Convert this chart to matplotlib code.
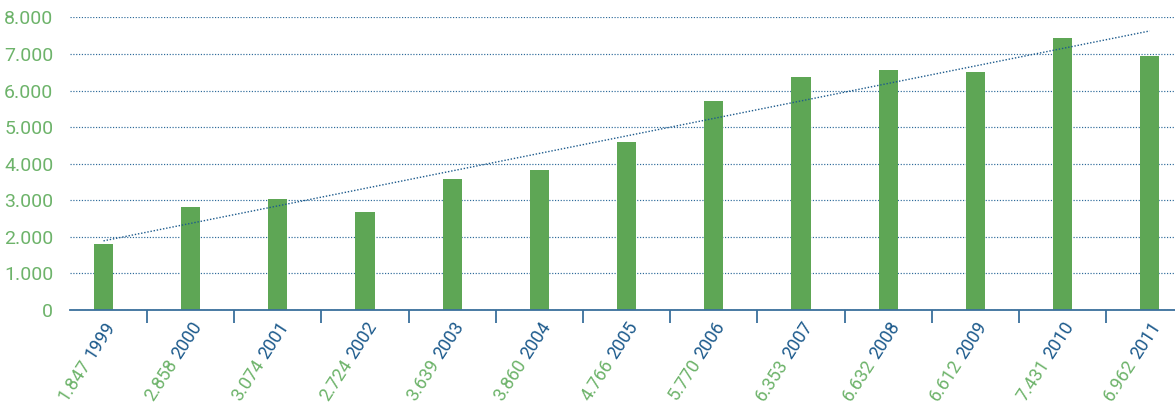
import numpy as np
import matplotlib.pyplot as plt
import matplotlib.transforms as mtransforms
from matplotlib.ticker import FuncFormatter

# Data
years = ['1999', '2000', '2001', '2002', '2003', '2004', '2005',
         '2006', '2007', '2008', '2009', '2010', '2011']
# bar heights as drawn
bar_values = [1800, 2810, 3030, 2670, 3580, 3840, 4600,
              5720, 6380, 6550, 6510, 7440, 6940]
# numbers printed in the category labels
label_values = [1847, 2858, 3074, 2724, 3639, 3860, 4766,
                5770, 6353, 6632, 6612, 7431, 6962]
y_ticks = [0, 1000, 2000, 3000, 4000, 5000, 6000, 7000, 8000]

GREEN_BAR = '#5ea655'
GREEN_TXT = '#6db36a'
BLUE = '#1c5a8c'
AXIS_BLUE = '#3a6f9c'

plt.rcParams['font.family'] = ['Roboto', 'DejaVu Sans']


def fmt(v):
    return f"{int(v):,}".replace(',', '.')


fig = plt.figure(figsize=(11.75, 4.05), dpi=100)
ax = fig.add_axes([70 / 1175, 95 / 405, 1 - 70 / 1175, (310 - 17.0) / 405])

x = np.arange(len(years))
ax.bar(x, bar_values, width=0.22, color=GREEN_BAR, zorder=3)

# linear trend line over the bars
k, b = np.polyfit(x, bar_values, 1)
ax.plot([x[0], x[-1]], [k * x[0] + b, k * x[-1] + b], color=BLUE,
        linestyle=(0, (1, 1.3)), lw=1.0, zorder=4)

ax.set_xlim(-0.384, 12.29)
ax.set_ylim(0, 8010)

# y axis
ax.set_yticks(y_ticks)
ax.yaxis.set_major_formatter(FuncFormatter(lambda v, p: fmt(v)))
ax.tick_params(axis='y', length=0, pad=12, labelsize=14, labelcolor=GREEN_TXT)
ax.grid(axis='y', color='#2d6a9a', linestyle=(0, (1, 1.4)), lw=0.85, zorder=0)
ax.set_axisbelow(True)

for s in ['top', 'right', 'left']:
    ax.spines[s].set_visible(False)
ax.spines['bottom'].set_color(AXIS_BLUE)
ax.spines['bottom'].set_linewidth(1.3)
ax.spines['bottom'].set_zorder(5)

# x axis: tick marks between categories, labels drawn by hand
ax.set_xticks(x)
ax.set_xticklabels([])
ax.tick_params(axis='x', which='major', length=0)
ax.set_xticks(x[:-1] + 0.5, minor=True)
ax.tick_params(axis='x', which='minor', length=9, width=1.3, color=AXIS_BLUE,
               direction='out')

# two-coloured rotated labels: "value year"
fs = 13
angle = 57
ox, oy = 0, -6
renderer = fig.canvas.get_renderer()
px2pt = 72 / fig.dpi
base = ax.get_xaxis_transform()
for xi, yr, v in zip(x, years, label_values):
    val = fmt(v)
    t_full = fig.text(0, 0, val + ' ' + yr, fontsize=fs)
    t_val = fig.text(0, 0, val, fontsize=fs)
    shift = (t_full.get_window_extent(renderer).width -
             t_val.get_window_extent(renderer).width) * px2pt
    t_full.remove()
    t_val.remove()

    tr = mtransforms.offset_copy(base, fig=fig, x=ox, y=oy, units='points')
    ax.text(xi, 0, yr, transform=tr, rotation=angle, rotation_mode='anchor',
            ha='right', va='top', fontsize=fs, color=BLUE)
    dx = -shift * np.cos(np.radians(angle))
    dy = -shift * np.sin(np.radians(angle))
    tr2 = mtransforms.offset_copy(base, fig=fig, x=ox + dx, y=oy + dy, units='points')
    ax.text(xi, 0, val, transform=tr2, rotation=angle, rotation_mode='anchor',
            ha='right', va='top', fontsize=fs, color=GREEN_TXT)

fig.savefig('out.png', dpi=100)
